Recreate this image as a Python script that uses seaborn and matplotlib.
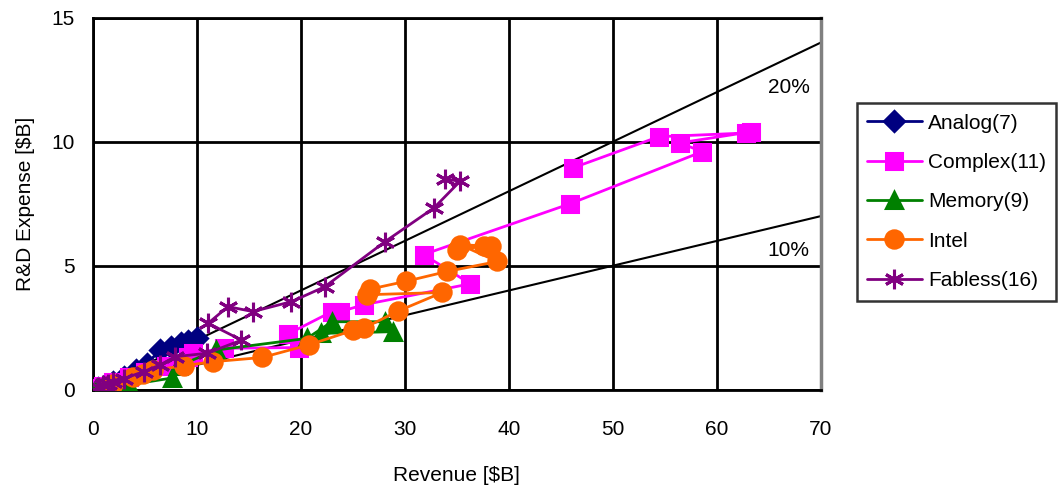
import numpy as np
import pandas as pd
import matplotlib
matplotlib.use('Agg')
import matplotlib.pyplot as plt
import seaborn as sns

# ── Data (revenue $B, R&D $B) ─────────────────────────────────────
analog_rev = [0.5, 1.2, 2.0, 3.0, 4.2, 5.2, 6.5, 7.5, 8.5, 9.2, 10.0]
analog_rd  = [0.08, 0.2, 0.33, 0.5, 0.78, 1.05, 1.6, 1.72, 1.88, 1.95, 2.1]

complex_rev = [0.3, 1.0, 2.0, 3.5, 5.0, 7.0, 9.2, 9.6, 12.6, 19.8, 18.8, 23.0, 23.8, 26.1,
               36.3, 31.8, 45.9, 58.6, 56.4, 63.3, 62.8, 54.4, 46.2]
complex_rd  = [0.05, 0.15, 0.3, 0.5, 0.7, 0.95, 1.3, 1.47, 1.67, 1.7, 2.25, 3.15, 3.15, 3.43,
               4.27, 5.45, 7.5, 9.6, 9.95, 10.4, 10.35, 10.2, 8.95]

memory_rev = [0.3, 1.5, 2.5, 3.5, 7.6, 8.2, 11.9, 20.6, 23.0, 28.1, 28.9, 21.9]
memory_rd  = [0.02, 0.08, 0.12, 0.2, 0.47, 0.95, 1.6, 2.07, 2.74, 2.74, 2.34, 2.27]

intel_rev = [2.0, 3.9, 4.8, 5.8, 8.8, 11.6, 16.3, 20.8, 25.0, 26.1, 29.3, 33.6, 26.4, 26.7,
             30.1, 34.1, 38.9, 35.3, 38.3, 37.6, 35.0]
intel_rd  = [0.25, 0.52, 0.62, 0.78, 0.97, 1.13, 1.3, 1.81, 2.39, 2.49, 3.16, 3.92, 3.83, 4.06,
             4.37, 4.77, 5.17, 5.85, 5.78, 5.78, 5.65]

fabless_rev = [0.5, 1.0, 1.5, 2.0, 3.0, 4.9, 6.5, 7.9, 11.0, 14.3, 11.1, 13.0, 15.4, 19.1,
               22.3, 28.1, 32.8, 35.3, 33.9]
fabless_rd  = [0.1, 0.2, 0.25, 0.3, 0.45, 0.73, 1.0, 1.33, 1.47, 2.0, 2.68, 3.35, 3.15, 3.55,
               4.15, 5.97, 7.33, 8.4, 8.5]

ref_rev = [0, 70]
ref_pct = [0.20, 0.10]

sns.set_style('white')
plt.rcParams['font.family'] = ['Liberation Sans', 'DejaVu Sans']
plt.rcParams['text.color'] = 'black'
plt.rcParams['axes.labelcolor'] = 'black'
plt.rcParams['xtick.color'] = 'black'
plt.rcParams['ytick.color'] = 'black'
FS = 15

fig = plt.figure(figsize=(10.58, 4.91), dpi=100)
ax = fig.add_axes([0.0876, 0.2063, 0.6884, 0.7577])

# reference lines
for p in ref_pct:
    ax.plot(ref_rev, [r * p for r in ref_rev], color='black', lw=1.5, zorder=2)
ax.text(66.9, 12.2, '20%', fontsize=FS, ha='center', va='center')
ax.text(66.9, 5.6, '10%', fontsize=FS, ha='center', va='center')

series = [
    ('Analog(7)',   analog_rev,  analog_rd,  '#000080', 'D', 10.5),
    ('Complex(11)', complex_rev, complex_rd, '#FF00FF', 's', 11.5),
    ('Memory(9)',   memory_rev,  memory_rd,  '#008000', '^', 12),
    ('Intel',       intel_rev,   intel_rd,   '#FF6600', 'o', 12.5),
    ('Fabless(16)', fabless_rev, fabless_rd, '#800080', (6, 2, 0), 14),
]
for name, xs, ys, col, mk, ms in series:
    sns.lineplot(x=xs, y=ys, sort=False, estimator=None, ax=ax, color=col, lw=2,
                 marker=mk, markersize=ms, markeredgecolor=col, markeredgewidth=2.2,
                 label=name, zorder=3)

ax.set_xlim(0, 70)
ax.set_ylim(0, 15)
ax.set_xticks(range(0, 71, 10))
ax.set_yticks([0, 5, 10, 15])
ax.set_axisbelow(True)
ax.grid(True, color='black', lw=2)
ax.tick_params(axis='x', length=0, pad=22, labelsize=FS)
ax.tick_params(axis='y', length=0, pad=13, labelsize=FS)
for s in ['left', 'bottom', 'top']:
    ax.spines[s].set_color('black')
    ax.spines[s].set_linewidth(2)
ax.spines['right'].set_color('#808080')
ax.spines['right'].set_linewidth(2.5)

ax.set_xlabel('Revenue [$B]', fontsize=FS, labelpad=19)
ax.set_ylabel('R&D Expense [$B]', fontsize=FS, labelpad=12)

handles, labels = ax.get_legend_handles_labels()
ax.get_legend().remove()
leg = fig.legend(handles, labels, loc='upper left', bbox_to_anchor=(0.81, 0.79),
                 fontsize=FS, frameon=True, fancybox=False, edgecolor='black',
                 handlelength=2.6, handletextpad=0.3, labelspacing=0.98,
                 borderpad=0.5, borderaxespad=0)
leg.get_frame().set_linewidth(1.8)

fig.savefig('out.png', dpi=100)
